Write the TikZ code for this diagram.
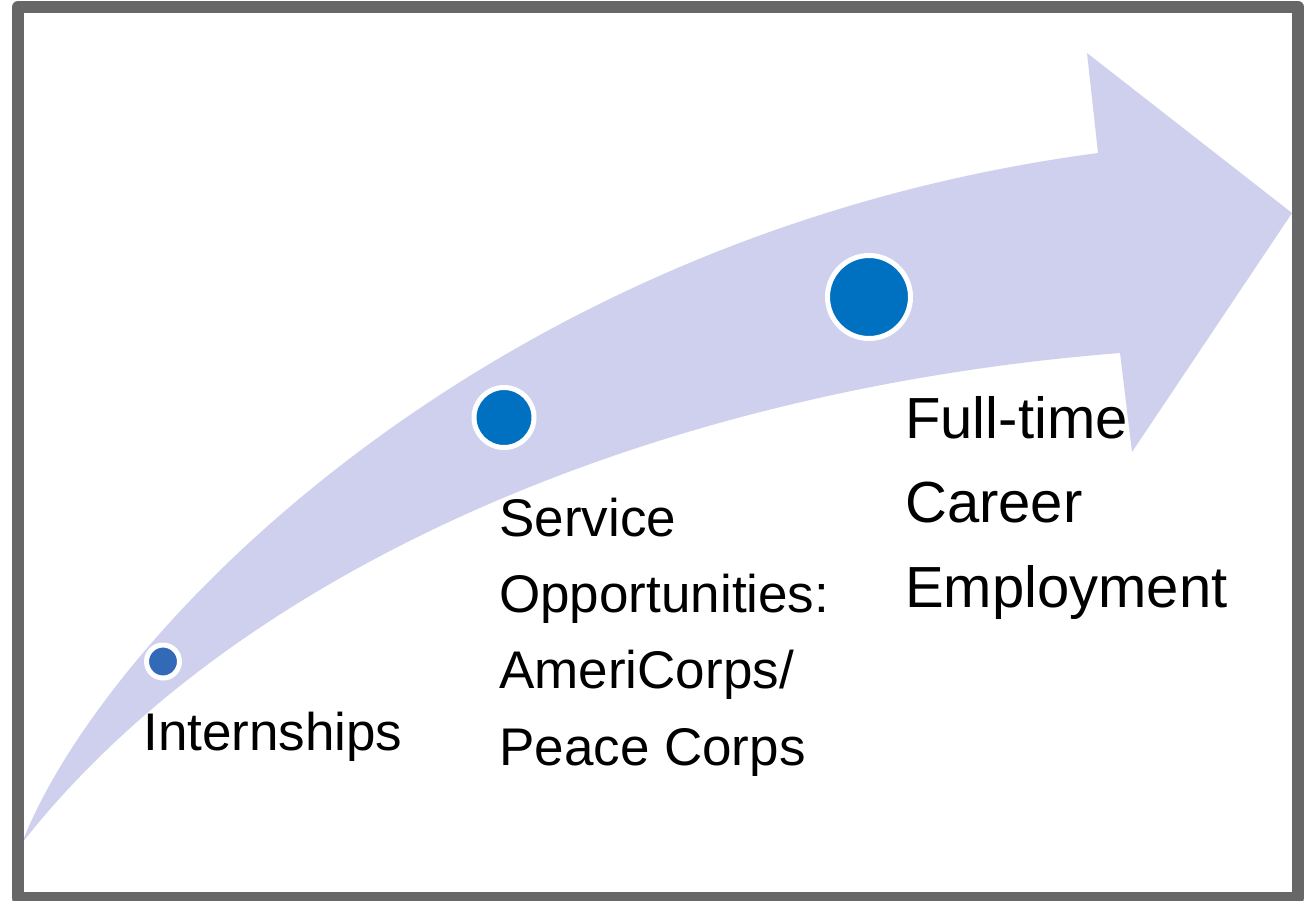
\documentclass[tikz,border=0pt]{standalone}
\usepackage{fontspec}
\setmainfont{Liberation Sans}
\definecolor{bandcol}{HTML}{CFD0EE}
\definecolor{framecol}{HTML}{676767}
\definecolor{dotblue}{HTML}{0070C0}
\definecolor{dotblueb}{HTML}{326AB8}
\tikzset{
  band/.style={fill=bandcol},
  frame/.style={draw=framecol, line width=12*0.75pt, line join=round},
  dot/.style={circle, inner sep=0pt, draw=white, line width=5*0.75pt},
  lblA/.style={anchor=base west, inner sep=0pt, font=\fontsize{39.75}{48}\selectfont},
  lblB/.style={anchor=base west, inner sep=0pt, font=\fontsize{43.5}{52}\selectfont},
}
\begin{document}
\begin{tikzpicture}[x=0.75pt, y=-0.75pt]
\useasboundingbox (0,0) rectangle (1308,900);
\fill[white] (0,0) rectangle (1308,900);
% curved arrow
\fill[band] (22,843) .. controls (100,640) and (480,235) .. (1098,153)
  -- (1087,53) -- (1292,213) -- (1132,452) -- (1120,353)
  .. controls (650,390) and (235,572) .. (22,843) -- cycle;
% frame
\draw[frame] (18,7) rectangle (1298,898);
% dots
\node[dot, fill=dotblueb, minimum size=33*0.75pt] (d1) at (163,661.5) {};
\node[dot, fill=dotblue, minimum size=60*0.75pt] (d2) at (504,417.5) {};
\node[dot, fill=dotblue, minimum size=83*0.75pt] (d3) at (869,297) {};
% labels
\node[lblA] (t1) at (143,750) {Internships};
\node[lblA] (t2a) at (499,536) {Service};
\node[lblA] (t2b) at (499,612) {Opportunities:};
\node[lblA] (t2c) at (499,688) {AmeriCorps/};
\node[lblA] (t2d) at (499,765) {Peace Corps};
\node[lblB] (t3a) at (905,438) {Full-time};
\node[lblB] (t3b) at (905,522) {Career};
\node[lblB] (t3c) at (905,607) {Employment};
\end{tikzpicture}
\end{document}
